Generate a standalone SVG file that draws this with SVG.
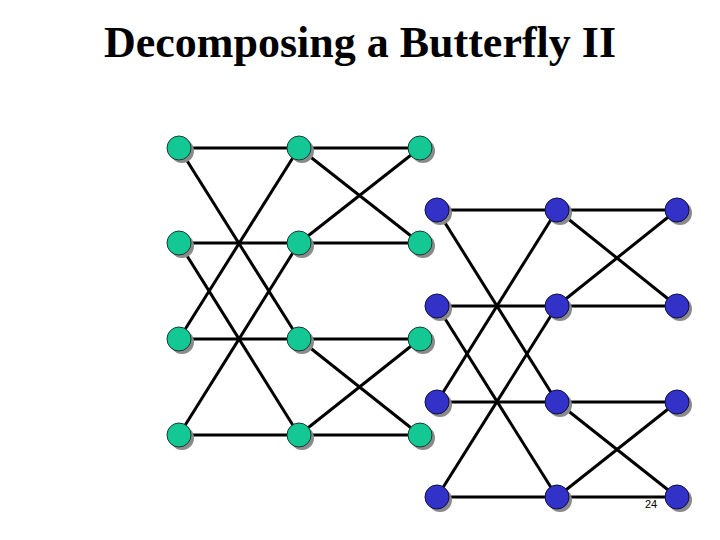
<svg xmlns="http://www.w3.org/2000/svg" width="720" height="540" viewBox="0 0 720 540">
<style>
.e{stroke:#000;stroke-width:3;fill:none}
.sh{fill:#8a8a8a}
.g{fill:#14c896;stroke:#1a3a30;stroke-width:1}
.b{fill:#3232c8;stroke:#101040;stroke-width:1}
.title{font-family:"Liberation Serif",serif;font-weight:bold;font-size:44px}
.num{font-family:"Liberation Sans",sans-serif;font-size:11px}
</style>
<defs>
<g id="gn"><circle class="sh" cx="3" cy="3" r="12"/><circle class="g" r="12"/></g>
<g id="bn"><circle class="sh" cx="3" cy="3" r="12"/><circle class="b" r="12"/></g>
</defs>
<rect width="720" height="540" fill="#fff"/>
<text class="title" x="360" y="57" text-anchor="middle">Decomposing a Butterfly II</text>
<g id="connectors" class="e">
<line x1="179" y1="148" x2="299" y2="148"/>
<line x1="179" y1="243" x2="299" y2="243"/>
<line x1="179" y1="339" x2="299" y2="339"/>
<line x1="179" y1="435" x2="299" y2="435"/>
<line x1="179" y1="148" x2="299" y2="339"/>
<line x1="179" y1="339" x2="299" y2="148"/>
<line x1="179" y1="243" x2="299" y2="435"/>
<line x1="179" y1="435" x2="299" y2="243"/>
<line x1="299" y1="148" x2="420" y2="148"/>
<line x1="299" y1="243" x2="420" y2="243"/>
<line x1="299" y1="339" x2="420" y2="339"/>
<line x1="299" y1="435" x2="420" y2="435"/>
<line x1="299" y1="148" x2="420" y2="243"/>
<line x1="299" y1="243" x2="420" y2="148"/>
<line x1="299" y1="339" x2="420" y2="435"/>
<line x1="299" y1="435" x2="420" y2="339"/>
<line x1="437" y1="210" x2="557" y2="210"/>
<line x1="437" y1="306" x2="557" y2="306"/>
<line x1="437" y1="402" x2="557" y2="402"/>
<line x1="437" y1="497" x2="557" y2="497"/>
<line x1="437" y1="210" x2="557" y2="402"/>
<line x1="437" y1="402" x2="557" y2="210"/>
<line x1="437" y1="306" x2="557" y2="497"/>
<line x1="437" y1="497" x2="557" y2="306"/>
<line x1="557" y1="210" x2="677" y2="210"/>
<line x1="557" y1="306" x2="677" y2="306"/>
<line x1="557" y1="402" x2="677" y2="402"/>
<line x1="557" y1="497" x2="677" y2="497"/>
<line x1="557" y1="210" x2="677" y2="306"/>
<line x1="557" y1="306" x2="677" y2="210"/>
<line x1="557" y1="402" x2="677" y2="497"/>
<line x1="557" y1="497" x2="677" y2="402"/>
</g>
<g id="g00"><use href="#gn" x="179" y="148"/></g>
<g id="g01"><use href="#gn" x="179" y="243"/></g>
<g id="g02"><use href="#gn" x="179" y="339"/></g>
<g id="g03"><use href="#gn" x="179" y="435"/></g>
<g id="g10"><use href="#gn" x="299" y="148"/></g>
<g id="g11"><use href="#gn" x="299" y="243"/></g>
<g id="g12"><use href="#gn" x="299" y="339"/></g>
<g id="g13"><use href="#gn" x="299" y="435"/></g>
<g id="g20"><use href="#gn" x="420" y="148"/></g>
<g id="g21"><use href="#gn" x="420" y="243"/></g>
<g id="g22"><use href="#gn" x="420" y="339"/></g>
<g id="g23"><use href="#gn" x="420" y="435"/></g>
<g id="b00"><use href="#bn" x="437" y="210"/></g>
<g id="b01"><use href="#bn" x="437" y="306"/></g>
<g id="b02"><use href="#bn" x="437" y="402"/></g>
<g id="b03"><use href="#bn" x="437" y="497"/></g>
<g id="b10"><use href="#bn" x="557" y="210"/></g>
<g id="b11"><use href="#bn" x="557" y="306"/></g>
<g id="b12"><use href="#bn" x="557" y="402"/></g>
<g id="b13"><use href="#bn" x="557" y="497"/></g>
<g id="b20"><use href="#bn" x="677" y="210"/></g>
<g id="b21"><use href="#bn" x="677" y="306"/></g>
<g id="b22"><use href="#bn" x="677" y="402"/></g>
<g id="b23"><use href="#bn" x="677" y="497"/></g>
<text class="num" x="645" y="508">24</text>
</svg>
